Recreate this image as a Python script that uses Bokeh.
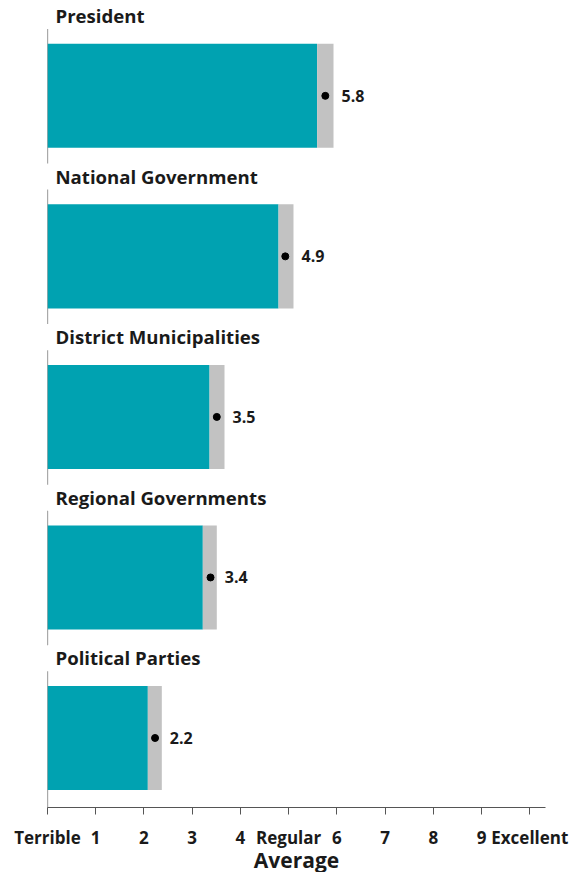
from bokeh.plotting import figure
from bokeh.models import ColumnDataSource, Range1d, FixedTicker
from bokeh.core.properties import value
from bokeh.embed import file_html
from bokeh.resources import INLINE

# ---- data ----
institutions = ["President", "National Government", "District Municipalities",
                "Regional Governments", "Political Parties"]
mean_values = [5.76, 4.93, 3.51, 3.38, 2.23]
ci_lower = [5.59, 4.79, 3.36, 3.22, 2.08]
ci_upper = [5.93, 5.10, 3.67, 3.51, 2.37]
value_labels = ["5.8", "4.9", "3.5", "3.4", "2.2"]
tick_values = [0, 1, 2, 3, 4, 5, 6, 7, 8, 9, 10]
tick_labels = ["Terrible", "1", "2", "3", "4", "Regular", "6", "7", "8", "9", "Excellent"]

FONT = "Open Sans"
TEAL = "#00a2b1"
GREY = "#c2c2c2"
TXT = "#1a1a1a"

idx = list(range(len(institutions)))
src = ColumnDataSource(dict(
    y=idx,
    name=institutions,
    mean=mean_values,
    lo=ci_lower,
    hi=ci_upper,
    lab=value_labels,
    title_y=[i - 0.5 for i in idx],
    seg_top=[i - 0.416 for i in idx],
    seg_bot=[i + 0.422 if i < len(idx) - 1 else 4.44 for i in idx],
    zero=[0] * len(idx),
))

p = figure(frame_width=498, frame_height=799,
           x_range=Range1d(0, 10.325), y_range=Range1d(4.433, -0.544),
           output_backend="svg", toolbar_location=None,
           min_border_left=47, min_border_right=25,
           min_border_top=8, min_border_bottom=65)
p.outline_line_color = None
p.xgrid.visible = False
p.ygrid.visible = False
p.yaxis.visible = False
p.background_fill_color = "white"
p.border_fill_color = "white"

# panel left lines
p.segment(x0="zero", y0="seg_top", x1="zero", y1="seg_bot", source=src,
          line_color="#555555", line_width=1.2)

# bars
p.hbar(y="y", left=0, right="lo", height=0.648, source=src,
       fill_color=TEAL, line_color=None)
p.hbar(y="y", left="lo", right="hi", height=0.648, source=src,
       fill_color=GREY, line_color=None)
p.scatter(x="mean", y="y", source=src, size=7, color="black")

# value labels
p.text(x="hi", y="y", text="lab", source=src, x_offset=8,
       text_font=value(FONT), text_font_style="bold", text_font_size="16px",
       text_color=TXT, text_baseline="middle", text_align="left")

# panel titles
p.text(x="zero", y="title_y", text="name", source=src, x_offset=8,
       text_font=value(FONT), text_font_style="bold", text_font_size="18.6px",
       text_color=TXT, text_baseline="alphabetic", text_align="left")

ax = p.xaxis[0]
ax.ticker = FixedTicker(ticks=tick_values)
ax.major_label_overrides = {v: l for v, l in zip(tick_values, tick_labels)}
ax.minor_tick_line_color = None
ax.major_tick_in = 0
ax.major_tick_out = 7
ax.axis_line_color = "#555555"
ax.major_tick_line_color = "#555555"
ax.major_label_text_font = FONT
ax.major_label_text_font_style = "bold"
ax.major_label_text_font_size = "17px"
ax.major_label_text_color = TXT
ax.major_label_standoff = 11
ax.axis_label = "Average"
ax.axis_label_text_font = FONT
ax.axis_label_text_font_style = "bold"
ax.axis_label_text_font_size = "21px"
ax.axis_label_text_color = TXT
ax.axis_label_standoff = -6

open("out.html", "w").write(file_html(p, INLINE))
